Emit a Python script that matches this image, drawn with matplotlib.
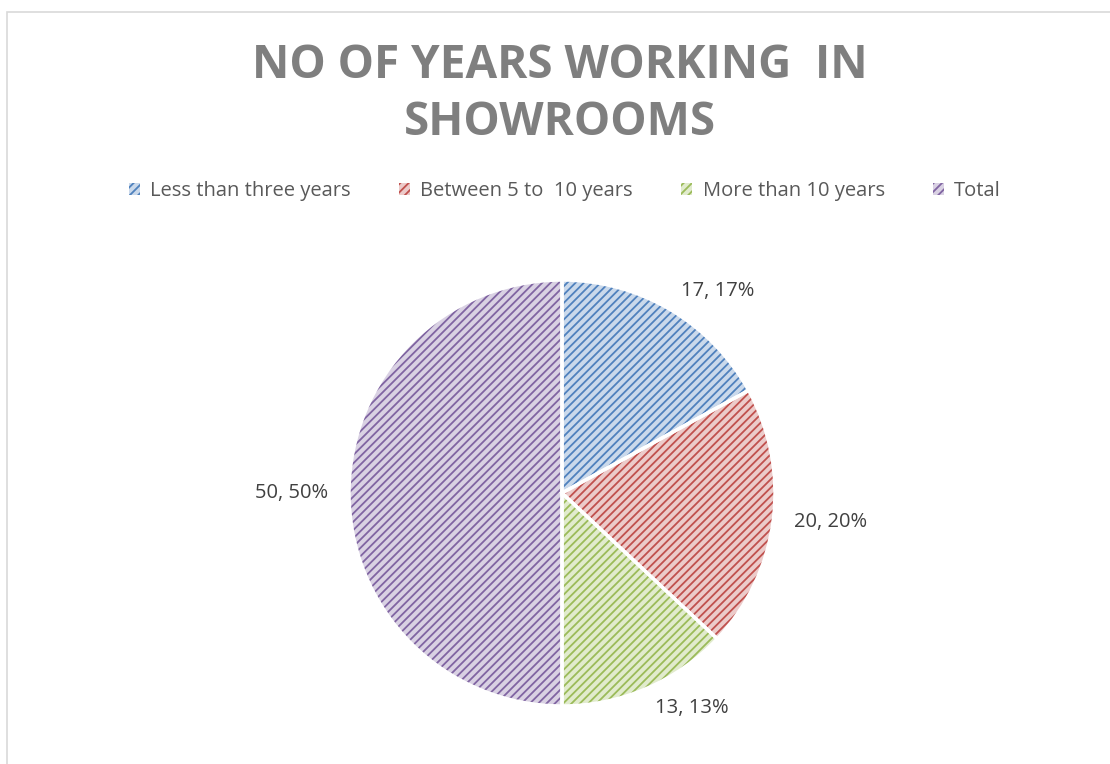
import matplotlib.pyplot as plt
from matplotlib.patches import Rectangle
from matplotlib.colors import to_rgb

categories = ["Less than three years", "Between 5 to  10 years", "More than 10 years", "Total"]
values = [17, 20, 13, 50]
colors = ["#4F81BD", "#C0504D", "#9BBB59", "#8064A2"]

plt.rcParams['font.family'] = ['Open Sans', 'DejaVu Sans']
plt.rcParams['hatch.linewidth'] = 1.3

W, H = 1110, 764
fig = plt.figure(figsize=(W / 100, H / 100), dpi=100)

# light frame along the top and left edges
fig.add_artist(Rectangle((7 / W, -0.1), 1.2, (H - 12) / H + 0.1, transform=fig.transFigure,
                         fill=False, edgecolor="#d9d9d9", linewidth=1.2))


def tint(c, amt=0.7):
    r, g, b = to_rgb(c)
    return (r + (1 - r) * amt, g + (1 - g) * amt, b + (1 - b) * amt)


# pie centred at (562, 493) px with radius 213 px
cx, cy, r = 562, H - 493, 213
ax = fig.add_axes([(cx - r) / W, (cy - r) / H, 2 * r / W, 2 * r / H])

total = sum(values)
labels = [f"{v}, {round(100 * v / total)}%" for v in values]

wedges, texts = ax.pie(values, labels=labels, startangle=90, counterclock=False,
                       labeldistance=1.1,
                       colors=[tint(c) for c in colors],
                       wedgeprops=dict(linewidth=0),
                       textprops=dict(fontsize=14.5, color="#404040"))
for w, c in zip(wedges, colors):
    w.set_hatch("////")
    w.set_edgecolor(c)

# white separators between slices
ax.pie(values, startangle=90, counterclock=False, colors=["none"] * 4,
       wedgeprops=dict(linewidth=2.5, edgecolor="white", fill=False))
ax.set_xlim(-1, 1)
ax.set_ylim(-1, 1)

fig.text(560 / W, 1 - 94 / H, "NO OF YEARS WORKING  IN\nSHOWROOMS", ha="center", va="center",
         fontsize=33, fontweight="bold", color="#7f7f7f", linespacing=1.3)

fig.legend(wedges, categories, loc="center", bbox_to_anchor=(565 / W, 1 - 191 / H), ncol=4,
           frameon=False, fontsize=14.5, labelcolor="#595959", handlelength=0.55, handleheight=0.55,
           handletextpad=0.5, columnspacing=2.4)

fig.savefig("out.png", dpi=100)
